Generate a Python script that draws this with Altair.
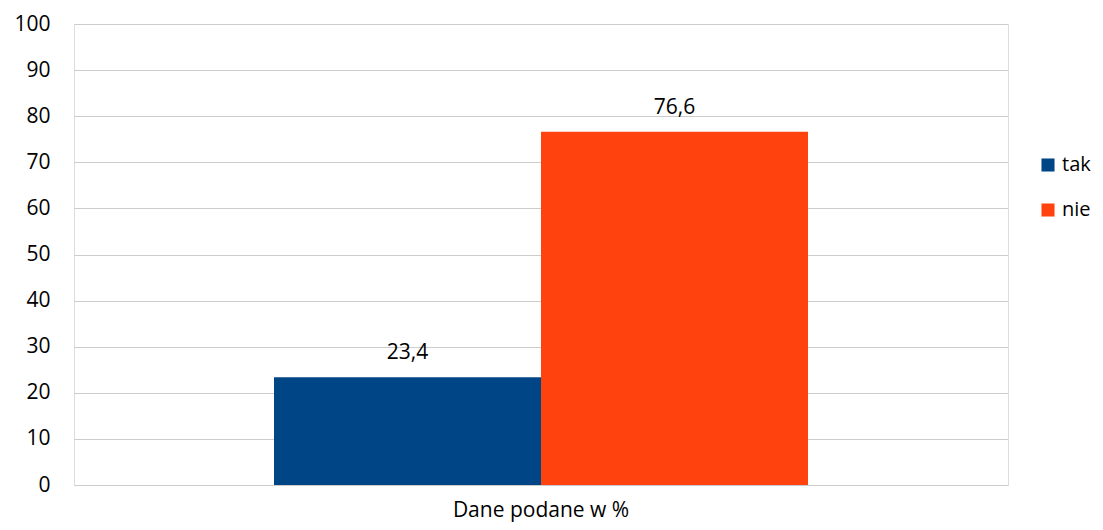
import altair as alt
import pandas as pd

category = ["Dane podane w %", "Dane podane w %"]
series = ["tak", "nie"]
values = [23.4, 76.6]
labels = ["23,4", "76,6"]
colors = ["#004586", "#ff420e"]

df = pd.DataFrame({"cat": category, "series": series, "value": values, "label": labels})

FONT = "Open Sans"
FS = 21

base = alt.Chart(df).encode(
    x=alt.X("cat:N", title=None,
            scale=alt.Scale(paddingInner=0, paddingOuter=0.3745),
            axis=alt.Axis(labelAngle=0, labelFontSize=FS, labelFont=FONT, labelColor="#000",
                          ticks=False, domain=False, labelPadding=14)),
    xOffset=alt.XOffset("series:N", sort=series, scale=alt.Scale(paddingInner=0, paddingOuter=0)),
)

bars = base.mark_bar().encode(
    y=alt.Y("value:Q", title=None,
            scale=alt.Scale(domain=[0, 100]),
            axis=alt.Axis(values=list(range(0, 101, 10)), labelFontSize=FS, labelFont=FONT,
                          labelColor="#000", ticks=False, domain=False, labelPadding=24,
                          gridColor="#cccccc", gridWidth=1)),
    color=alt.Color("series:N", sort=series,
                    scale=alt.Scale(domain=series, range=colors),
                    legend=alt.Legend(title=None, orient="none", legendX=964, legendY=131,
                                      symbolType="square", symbolSize=170, symbolStrokeWidth=0,
                                      labelFontSize=20, labelFont=FONT, labelColor="#000",
                                      rowPadding=25, labelOffset=4)),
)

text = base.mark_text(baseline="bottom", dy=-14, fontSize=FS, font=FONT, color="#000").encode(
    y=alt.Y("value:Q"),
    text="label:N",
)

chart = (bars + text).properties(
    width=934, height=461,
    autosize=alt.AutoSizeParams(type="none"),
    padding={"left": 66, "top": 16, "right": 87, "bottom": 37},
).configure_view(stroke="#b3b3b3", strokeWidth=1.5).configure(background="white")

chart.save("out.html", embed_options={"renderer": "svg", "actions": False})
